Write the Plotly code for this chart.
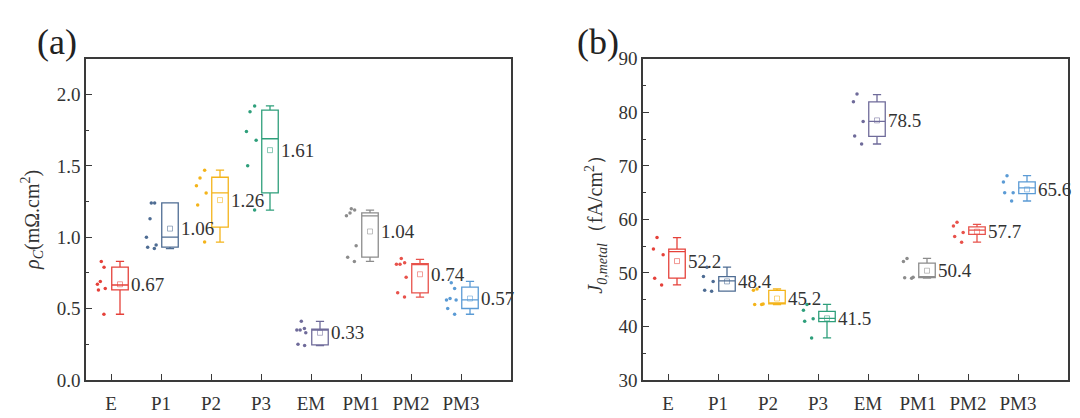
import plotly.graph_objects as go

categories = ["E", "P1", "P2", "P3", "EM", "PM1", "PM2", "PM3"]
colors = ["#E5413A", "#4E6C93", "#F4B41A", "#2E9F7B", "#6F6B9A", "#8C8C8C", "#E8524B", "#5B9BD5"]

# Panel (a): contact resistivity rho_C (mOhm.cm^2)
a_points = [
    [0.83, 0.79, 0.69, 0.67, 0.64, 0.63, 0.46],
    [1.24, 1.24, 1.13, 1.00, 0.945, 0.93, 0.92],
    [1.47, 1.415, 1.36, 1.31, 1.225, 0.967],
    [1.92, 1.88, 1.74, 1.68, 1.50, 1.19],
    [0.41, 0.36, 0.35, 0.35, 0.33, 0.25, 0.24],
    [1.19, 1.20, 1.17, 1.15, 0.94, 0.86, 0.83],
    [0.85, 0.82, 0.81, 0.81, 0.72, 0.61, 0.58],
    [0.68, 0.64, 0.57, 0.56, 0.56, 0.50, 0.46],
]
a_q1 = [0.63, 0.93, 1.07, 1.31, 0.245, 0.86, 0.61, 0.50]
a_median = [0.665, 1.00, 1.31, 1.69, 0.35, 1.15, 0.81, 0.56]
a_q3 = [0.79, 1.24, 1.42, 1.89, 0.355, 1.17, 0.815, 0.65]
a_low = [0.46, 0.92, 0.965, 1.19, 0.24, 0.83, 0.58, 0.46]
a_high = [0.83, 1.24, 1.47, 1.92, 0.41, 1.19, 0.845, 0.69]
a_mean = [0.67, 1.06, 1.26, 1.61, 0.33, 1.04, 0.74, 0.57]

# Panel (b): J_0,metal (fA/cm^2)
b_points = [
    [56.6, 54.45, 53.4, 49.0, 47.75],
    [51.07, 49.3, 48.4, 46.75, 46.57],
    [46.74, 47.0, 44.08, 44.08, 44.2],
    [44.1, 43.0, 41.42, 40.95, 37.84],
    [83.44, 81.96, 78.29, 75.57, 74.08],
    [52.7, 52.1, 49.2, 49.1, 49.0],
    [59.47, 58.76, 57.52, 56.8, 55.74],
    [68.17, 66.98, 64.97, 64.97, 63.43],
]
b_q1 = [49.0, 46.57, 44.2, 40.9, 75.5, 49.1, 57.2, 64.8]
b_median = [53.97, 48.5, 44.3, 41.5, 78.3, 49.2, 58.0, 65.9]
b_q3 = [54.45, 49.3, 46.74, 42.8, 81.96, 51.8, 58.6, 67.0]
b_low = [47.75, 46.57, 44.08, 37.84, 74.08, 49.0, 55.74, 63.43]
b_high = [56.6, 51.07, 47.0, 44.1, 83.3, 52.7, 59.06, 68.17]
b_mean = [52.2, 48.4, 45.2, 41.5, 78.5, 50.4, 57.7, 65.6]

a_fmt = "{:.2f}"
b_fmt = "{:.1f}"

BOX_OFF = 0.18
BOX_W = 0.33
PTS_OFF = -0.19
PTS_W = 0.24

fig = go.Figure()


def lighten(hexc, a=0.55):
    h = hexc.lstrip("#")
    r, g, b = int(h[0:2], 16), int(h[2:4], 16), int(h[4:6], 16)
    return f"rgba({r},{g},{b},{a})"


def add_panel(points, q1, med, q3, low, high, mean, fmt, xa, ya):
    for i, cat in enumerate(categories):
        c = colors[i]
        # jittered sample points (box itself hidden)
        fig.add_trace(go.Box(
            y=points[i], x=[i + PTS_OFF] * len(points[i]),
            boxpoints="all", jitter=1.0, pointpos=0, width=PTS_W,
            line=dict(color="rgba(0,0,0,0)", width=0),
            fillcolor="rgba(0,0,0,0)",
            marker=dict(color=c, size=3.5),
            xaxis=xa, yaxis=ya, showlegend=False, hoverinfo="y",
        ))
        # box from statistics
        fig.add_trace(go.Box(
            x=[i + BOX_OFF], q1=[q1[i]], median=[med[i]], q3=[q3[i]],
            lowerfence=[low[i]], upperfence=[high[i]],
            width=BOX_W, whiskerwidth=0.5,
            line=dict(color=c, width=1.3), fillcolor="rgba(0,0,0,0)",
            boxpoints=False, xaxis=xa, yaxis=ya, showlegend=False,
        ))
        # mean marker
        fig.add_trace(go.Scatter(
            x=[i + BOX_OFF], y=[mean[i]], mode="markers",
            marker=dict(symbol="square-open", size=5, color=lighten(c),
                        line=dict(width=1)),
            xaxis=xa, yaxis=ya, showlegend=False, hoverinfo="skip",
        ))
        fig.add_annotation(
            x=i + BOX_OFF + BOX_W / 2, y=mean[i], xref=xa, yref=ya,
            text=fmt.format(mean[i]), showarrow=False, xanchor="left",
            yanchor="middle", xshift=1,
            font=dict(family="Liberation Serif", size=19, color="#333333"),
        )


add_panel(a_points, a_q1, a_median, a_q3, a_low, a_high, a_mean, a_fmt, "x", "y")
add_panel(b_points, b_q1, b_median, b_q3, b_low, b_high, b_mean, b_fmt, "x2", "y2")

font_main = dict(family="Liberation Serif", size=19, color="#333333")
title_font = dict(family="Liberation Serif", size=20, color="#333333")
axis_common = dict(
    showline=True, linecolor="#3a3a3a", linewidth=1.5, mirror=True,
    ticks="inside", tickcolor="#3a3a3a", ticklen=6, tickwidth=1.3,
    showgrid=False, zeroline=False, tickfont=font_main,
)
xcommon = dict(axis_common, range=[-0.5, 8], tickvals=list(range(8)),
               ticktext=categories, ticklabelstandoff=6)

fig.update_layout(
    width=1080, height=418,
    margin=dict(l=0, r=0, t=0, b=0),
    paper_bgcolor="white", plot_bgcolor="white",
    boxmode="overlay",
    font=font_main,
    xaxis=dict(xcommon, domain=[78 / 1080, 503 / 1080], anchor="y"),
    yaxis=dict(axis_common, domain=[1 - 381 / 418, 1 - 43 / 418], anchor="x",
               range=[0, 2.25], dtick=0.5, tickformat=".1f",
               minor=dict(dtick=0.25, ticks="inside", ticklen=3.5,
                          tickcolor="#3a3a3a", showgrid=False),
               title=dict(text="<i>ρ</i><sub><i>C</i></sub>(mΩ.cm<sup>2</sup>)",
                          font=title_font, standoff=12)),
    xaxis2=dict(xcommon, domain=[635 / 1080, 1060 / 1080], anchor="y2"),
    yaxis2=dict(axis_common, domain=[1 - 381 / 418, 1 - 43 / 418], anchor="x2",
                range=[30, 90], dtick=10,
                minor=dict(dtick=5, ticks="inside", ticklen=3.5,
                           tickcolor="#3a3a3a", showgrid=False),
                title=dict(text="<i>J</i><sub><i>0,metal</i></sub>（fA/cm<sup>2</sup>）",
                           font=title_font, standoff=10)),
)

fig.add_annotation(x=27 / 1080, y=1 - 25 / 418, xref="paper", yref="paper",
                   text="(a)", showarrow=False, xanchor="left", yanchor="middle",
                   font=dict(family="Liberation Serif", size=36, color="#222222"))
fig.add_annotation(x=567 / 1080, y=1 - 25 / 418, xref="paper", yref="paper",
                   text="(b)", showarrow=False, xanchor="left", yanchor="middle",
                   font=dict(family="Liberation Serif", size=36, color="#222222"))

fig.write_html("out.html")
